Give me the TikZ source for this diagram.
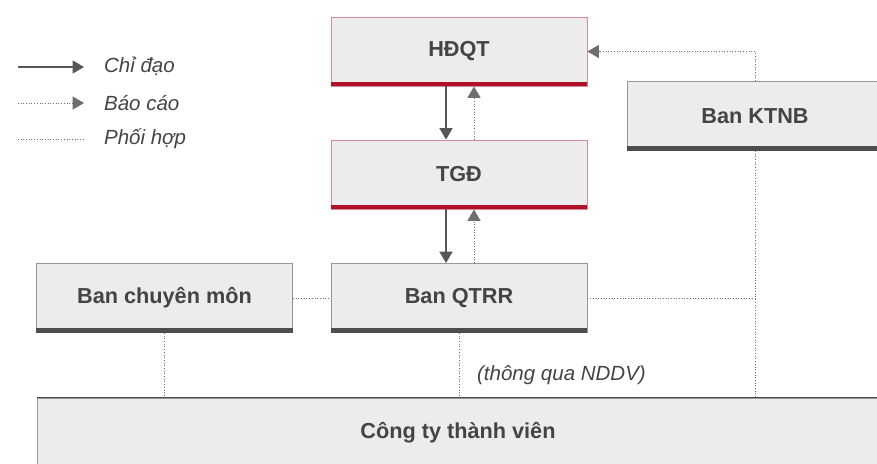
\documentclass[tikz,border=0pt]{standalone}
\usepackage{fontspec}
\setmainfont{Liberation Sans}
\usetikzlibrary{arrows.meta,positioning,calc}
\definecolor{boxfill}{RGB}{236,236,236}
\definecolor{ink}{RGB}{68,68,68}
\definecolor{crimson}{RGB}{178,16,42}
\definecolor{rose}{RGB}{218,138,150}
\definecolor{frame}{RGB}{150,150,150}
\definecolor{barc}{RGB}{77,77,77}
\definecolor{linec}{RGB}{110,110,110}

\begin{document}
\begin{tikzpicture}[x=.03cm,y=-.03cm,>={Triangle[length=3.4mm,width=3.9mm]},
 unit/.style={draw=frame,fill=boxfill,line width=.8pt,minimum width=7.68cm,minimum height=2.07cm,inner sep=0pt,text=ink,font=\fontsize{18.5}{22}\selectfont\bfseries},
 board/.style={unit,draw=rose},
 lead/.style={->,draw=ink!90,line width=1.1pt},
 report/.style={->,draw=linec,dash pattern=on .8pt off 1.5pt,line width=.8pt},
 link/.style={draw=linec,dash pattern=on .8pt off 1.5pt,line width=.8pt},
 legtxt/.style={anchor=west,text=ink,font=\fontsize{17.5}{20}\selectfont\itshape}]
\clip (0,0) rectangle (877,463);
% legend
\coordinate (l1a) at (18,67);\coordinate (l1b) at (84,67);
\coordinate (l2a) at (18,103);\coordinate (l2b) at (84,103);
\coordinate (l3a) at (18,139);\coordinate (l3b) at (84,139);
\draw[lead] (l1a)--(l1b);\draw[report] (l2a)--(l2b);\draw[link] (l3a)--(l3b);
\node[legtxt] (t1) at (100,66) {Chỉ đạo};
\node[legtxt] (t2) at (100,103) {Báo cáo};
\node[legtxt] (t3) at (100,139) {Phối hợp};
% boxes
\node[board] (hdqt) at (459,51.5) {HĐQT};
\node[board] (tgd) at (459,174.5) {TGĐ};
\node[unit] (qtrr) at (459,298) {Ban QTRR};
\node[unit] (cm) at (164.5,298) {Ban chuyên môn};
\node[unit] (ktnb) at (755,116) {Ban KTNB};
\node[unit,minimum width=25.26cm] (cty) at (458,432.5) {Công ty thành viên};
\draw[barc,line width=1.5pt] (cty.north west)--(cty.north east);
\foreach \n in {hdqt,tgd}{\fill[crimson] ($(\n.south west)+(0,-4.5)$) rectangle (\n.south east);}
\foreach \n in {qtrr,cm,ktnb}{\fill[barc] ($(\n.south west)+(0,-5)$) rectangle (\n.south east);}
% connectors
\draw[lead] ($(hdqt.south)+(-13,0)$)--($(tgd.north)+(-13,0)$);
\draw[report] ($(tgd.north)+(15,0)$)--($(hdqt.south)+(15,0)$);
\draw[lead] ($(tgd.south)+(-13,0)$)--($(qtrr.north)+(-13,0)$);
\draw[report] ($(qtrr.north)+(15,0)$)--($(tgd.south)+(15,0)$);
\draw[report] (ktnb.north)|-(hdqt.east);
\draw[link] (ktnb.south)--(ktnb.south|-cty.north);
\draw[link] (cm.east)--(qtrr.west);
\draw[link] (qtrr.east)--(ktnb.south|-qtrr.east);
\draw[link] (cm.south)--(cm.south|-cty.north);
\draw[link] (qtrr.south)--(qtrr.south|-cty.north);
\node[legtxt] (via) at (473,375) {(thông qua NDDV)};
\end{tikzpicture}
\end{document}
